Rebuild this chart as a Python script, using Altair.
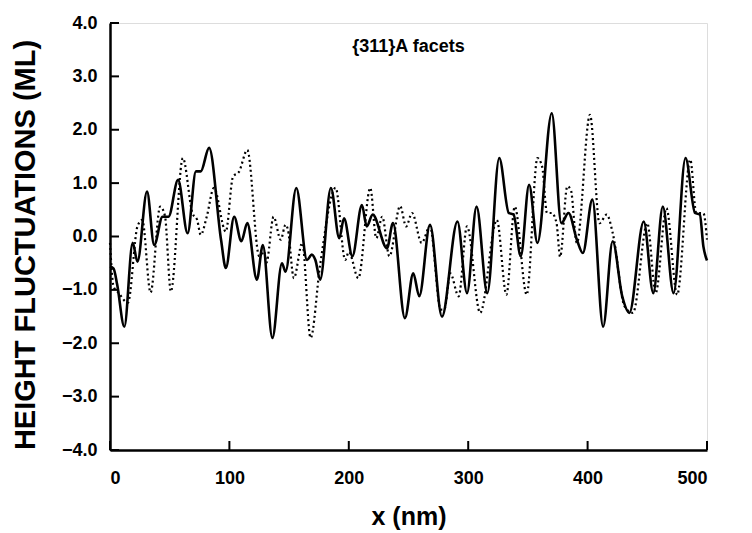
import altair as alt
import pandas as pd

# solid profile (x in nm, height in ML)
solid_x = [0, 3, 6, 12, 19, 23, 31, 37, 44, 49, 57, 65, 72, 76, 83, 93, 97, 104, 110, 115,
           123, 128, 136, 144, 147, 156, 165, 169, 172, 176, 185, 192, 196, 203, 211, 215, 220,
           232, 237, 247, 254, 259, 268, 278, 291, 299, 307, 316, 326, 334, 338, 344, 351, 358,
           370, 378, 384, 391, 396, 404, 413, 421, 429, 435, 447, 455, 463, 472, 482, 490, 494,
           497, 500]
solid_y = [-0.56, -0.6, -0.9, -1.69, -0.12, -0.47, 0.84, -0.16, 0.37, 0.37, 1.06, 0.06, 1.22, 1.22,
           1.66, -0.06, -0.59, 0.37, -0.09, 0.25, -0.81, -0.16, -1.9, -0.5, -0.66, 0.91, -0.44,
           -0.34, -0.44, -0.81, 0.91, -0.03, 0.34, -0.37, 0.59, 0.19, 0.41, -0.22, 0.25, -1.53,
           -0.69, -1.12, 0.22, -1.5, 0.28, -1.06, 0.56, -1.06, 1.47, 0.44, 0.41, -0.37, 0.97,
           -0.12, 2.31, 0.25, 0.44, -0.06, -0.31, 0.69, -1.69, -0.09, -1.12, -1.43, 0.28, -1.06,
           0.56, -1.06, 1.47, 0.44, 0.41, -0.19, -0.45]

# dotted profile
dotted_x = [0, 3, 7, 15, 23, 27, 34, 42, 46, 51, 61, 69, 73, 76, 81, 87, 97, 103, 108, 115,
            125, 129, 131, 137, 143, 147, 149, 154, 161, 168, 176, 189, 197, 200, 208, 218, 223,
            228, 234, 243, 248, 253, 261, 268, 277, 280, 285, 292, 299, 310, 324, 332, 339, 349,
            358, 362, 366, 370, 374, 377, 383, 386, 391, 402, 410, 416, 421, 431, 438, 450, 457,
            466, 475, 486, 491, 497, 500]
dotted_y = [-0.12, -0.94, -1.05, -1.24, 0.19, 0.31, -1.05, 0.56, 0.39, -1.03, 1.47, 0.44, 0.31,
            0.03, 0.37, 0.91, 0.09, 1.12, 1.21, 1.62, -0.37, -0.28, -0.49, 0.37, -0.06, 0.22, 0.13,
            -0.78, -0.12, -1.9, -0.53, 0.91, -0.44, -0.29, -0.78, 0.91, -0.03, 0.37, -0.37, 0.57,
            0.19, 0.44, -0.12, 0.19, -1.37, -1.37, -0.69, -1.12, 0.19, -1.43, 0.31, -1.09, 0.56,
            -1.09, 1.47, 1.3, 0.44, 0.44, 0.25, -0.38, 0.94, 0.87, -0.12, 2.28, 0.25, 0.41, 0.07,
            -1.31, -1.43, 0.25, -1.06, 0.53, -1.09, 1.44, 0.44, 0.44, -0.06]

y_ticks = [-4, -3, -2, -1, 0, 1, 2, 3, 4]
x_ticks = [0, 100, 200, 300, 400, 500]
title_text = ["{311}A facets"]

FONT = "'Liberation Sans', Arial, sans-serif"
W, H = 597, 427

solid_df = pd.DataFrame({"x": solid_x, "h": solid_y})
dotted_df = pd.DataFrame({"x": dotted_x, "h": dotted_y})

xscale = alt.Scale(domain=[0, 500], nice=False)
yscale = alt.Scale(domain=[-4, 4], nice=False)

xaxis = alt.Axis(values=x_ticks, format="d", ticks=False, grid=False, domainColor="black",
                 domainWidth=2.5, labelFont=FONT, labelFontSize=18, labelFontWeight="bold",
                 labelColor="black", labelPadding=19, title="x (nm)", titleFont=FONT,
                 titleFontSize=25, titleFontWeight="bold", titleColor="black",
                 titleBaseline="alphabetic", titleY=74)
yaxis = alt.Axis(values=y_ticks, format=".1f", ticks=False, grid=False, domainColor="black",
                 domainWidth=2.5, labelFont=FONT, labelFontSize=18, labelFontWeight="bold",
                 labelColor="black", labelPadding=13, title="HEIGHT FLUCTUATIONS (ML)",
                 titleFont=FONT, titleFontSize=29, titleFontWeight="bold", titleColor="black",
                 titleX=-70, titleY=H / 2 + 8)

solid = alt.Chart(solid_df).mark_line(color="black", strokeWidth=2.6, interpolate="monotone").encode(
    x=alt.X("x:Q", scale=xscale, axis=xaxis),
    y=alt.Y("h:Q", scale=yscale, axis=yaxis),
)
dotted = alt.Chart(dotted_df).mark_line(color="black", strokeWidth=2.2, strokeDash=[2, 3],
                                        interpolate="monotone").encode(
    x=alt.X("x:Q", scale=xscale),
    y=alt.Y("h:Q", scale=yscale),
)

yt = alt.Chart(pd.DataFrame({"t": y_ticks})).mark_rule(color="black", strokeWidth=2).encode(
    y=alt.Y("t:Q", scale=yscale), x=alt.value(0), x2=alt.value(9))
xt = alt.Chart(pd.DataFrame({"t": x_ticks})).mark_rule(color="black", strokeWidth=2).encode(
    x=alt.X("t:Q", scale=xscale), y=alt.value(H), y2=alt.value(H - 9))

label = alt.Chart(pd.DataFrame({"t": title_text})).mark_text(
    font=FONT, fontSize=18, fontWeight="bold", color="black").encode(
    x=alt.datum(250), y=alt.datum(3.55), text="t:N")

chart = alt.layer(solid, dotted, yt, xt, label).properties(
    width=W, height=H,
    autosize=alt.AutoSizeParams(type="none"),
    padding={"left": 102, "top": 15, "right": 30, "bottom": 80},
).configure_view(stroke="black", strokeWidth=2).configure(background="white")

chart.save("out.html", embed_options={"renderer": "svg", "actions": False})
